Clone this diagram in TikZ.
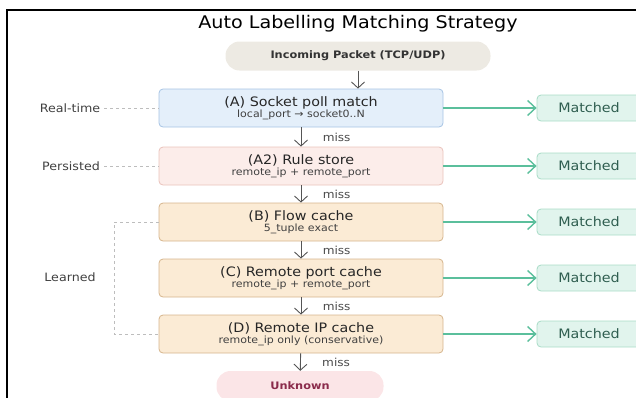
\documentclass[tikz,border=0pt]{standalone}
\usepackage{fontspec}
\setmainfont{DejaVu Sans}[FakeStretch=1.1]
\usetikzlibrary{arrows.meta, positioning}

\definecolor{blueFill}{HTML}{E4EFFA}
\definecolor{blueLine}{HTML}{A6C4E4}
\definecolor{pinkFill}{HTML}{FCEDEA}
\definecolor{pinkLine}{HTML}{EAC3BC}
\definecolor{tanFill}{HTML}{FBEBD5}
\definecolor{tanLine}{HTML}{D6B58D}
\definecolor{mintFill}{HTML}{E1F4ED}
\definecolor{mintLine}{HTML}{A9DCC7}
\definecolor{mintText}{HTML}{2F5E50}
\definecolor{hitGreen}{HTML}{5BBF9C}
\definecolor{pillFill}{HTML}{EDEAE3}
\definecolor{unkFill}{HTML}{FBE5E7}
\definecolor{unkText}{HTML}{8A2B4B}
\definecolor{missGray}{HTML}{555555}
\definecolor{dashGray}{HTML}{BDBDBD}

\newcommand{\stagetext}[2]{{\fontsize{13}{14}\selectfont #1}\\[-1pt]{\fontsize{10}{11}\selectfont\color{black!75} #2}}

\begin{document}
\begin{tikzpicture}[x=1pt, y=-1pt,
  stage/.style={draw, rounded corners=4pt, minimum width=284pt, minimum height=38pt,
    align=center, inner sep=0pt, line width=0.8pt, text=black!85},
  hitbox/.style={draw=mintLine, fill=mintFill, rounded corners=4pt, minimum width=104pt,
    minimum height=26pt, inner sep=0pt, line width=0.8pt, text=mintText,
    font=\fontsize{13}{14}\selectfont},
  pill/.style={rounded corners=14pt, minimum height=29pt, inner sep=0pt,
    font=\bfseries\fontsize{10.3}{12}\selectfont},
  sidelbl/.style={inner sep=4pt, text=black!75, font=\fontsize{11.5}{13}\selectfont},
  sidedash/.style={draw=dashGray, dashed, line width=0.6pt},
  miss/.style={draw=missGray, line width=0.9pt, -{Straight Barb[length=6pt, width=13pt]}},
  hit/.style={draw=hitGreen, line width=1.4pt, -{Straight Barb[length=8pt, width=15pt]}},
  misslbl/.style={right=18pt, text=black!70, font=\fontsize{11}{12}\selectfont}]
  \useasboundingbox (0,0) rectangle (636,397);
  \clip (0,0) rectangle (636,397);
  \draw[line width=1.6pt] (7,400) -- (7,10) -- (640,10);

  \node (title) at (358,24) {\fontsize{17.4}{20}\selectfont Auto Labelling Matching Strategy};
  \node[pill, fill=pillFill, minimum width=265pt, text=black!80] (in) at (358,56) {Incoming Packet (TCP/UDP)};

  \node[stage, fill=blueFill, draw=blueLine] (A) at (301,108) {\stagetext{(A) Socket poll match}{local\_port → socket0..N}};
  \node[stage, fill=pinkFill, draw=pinkLine] (A2) at (301,166) {\stagetext{(A2) Rule store}{remote\_ip + remote\_port}};
  \node[stage, fill=tanFill, draw=tanLine] (B) at (301,222) {\stagetext{(B) Flow cache}{5\_tuple exact}};
  \node[stage, fill=tanFill, draw=tanLine] (C) at (301,278) {\stagetext{(C) Remote port cache}{remote\_ip + remote\_port}};
  \node[stage, fill=tanFill, draw=tanLine] (D) at (301,334) {\stagetext{(D) Remote IP cache}{remote\_ip only (conservative)}};
  \node[pill, fill=unkFill, minimum width=167pt, minimum height=30pt, text=unkText] (unk) at (300,386) {Unknown};

  % matched outcomes
  \foreach \s in {A, A2, B, C, D}
    \node[hitbox] (m\s) at (\s -| 589,0) {Matched};
  \foreach \s in {A, A2, B, C, D}
    \draw[hit] (\s.east) -- (m\s.west);

  \draw[miss] (in) -- (in |- A.north);
  \draw[miss] (A) -- (A2) node[midway, misslbl] {miss};
  \draw[miss] (A2) -- (B) node[midway, misslbl] {miss};
  \draw[miss] (B) -- (C) node[midway, misslbl] {miss};
  \draw[miss] (C) -- (D) node[midway, misslbl] {miss};
  \draw[miss] (D) -- (unk) node[midway, misslbl] {miss};

  % tiers
  \node[sidelbl] (rt) at (70,108) {Real-time};
  \node[sidelbl] (ps) at (71,166) {Persisted};
  \node[sidelbl] (lr) at (70,277) {Learned};
  \coordinate (lrn) at (114,222);
  \draw[sidedash] (rt) -- (A);
  \draw[sidedash] (ps) -- (A2);
  \draw[sidedash] (B.west) -- (lrn) |- (D.west);
\end{tikzpicture}
\end{document}
